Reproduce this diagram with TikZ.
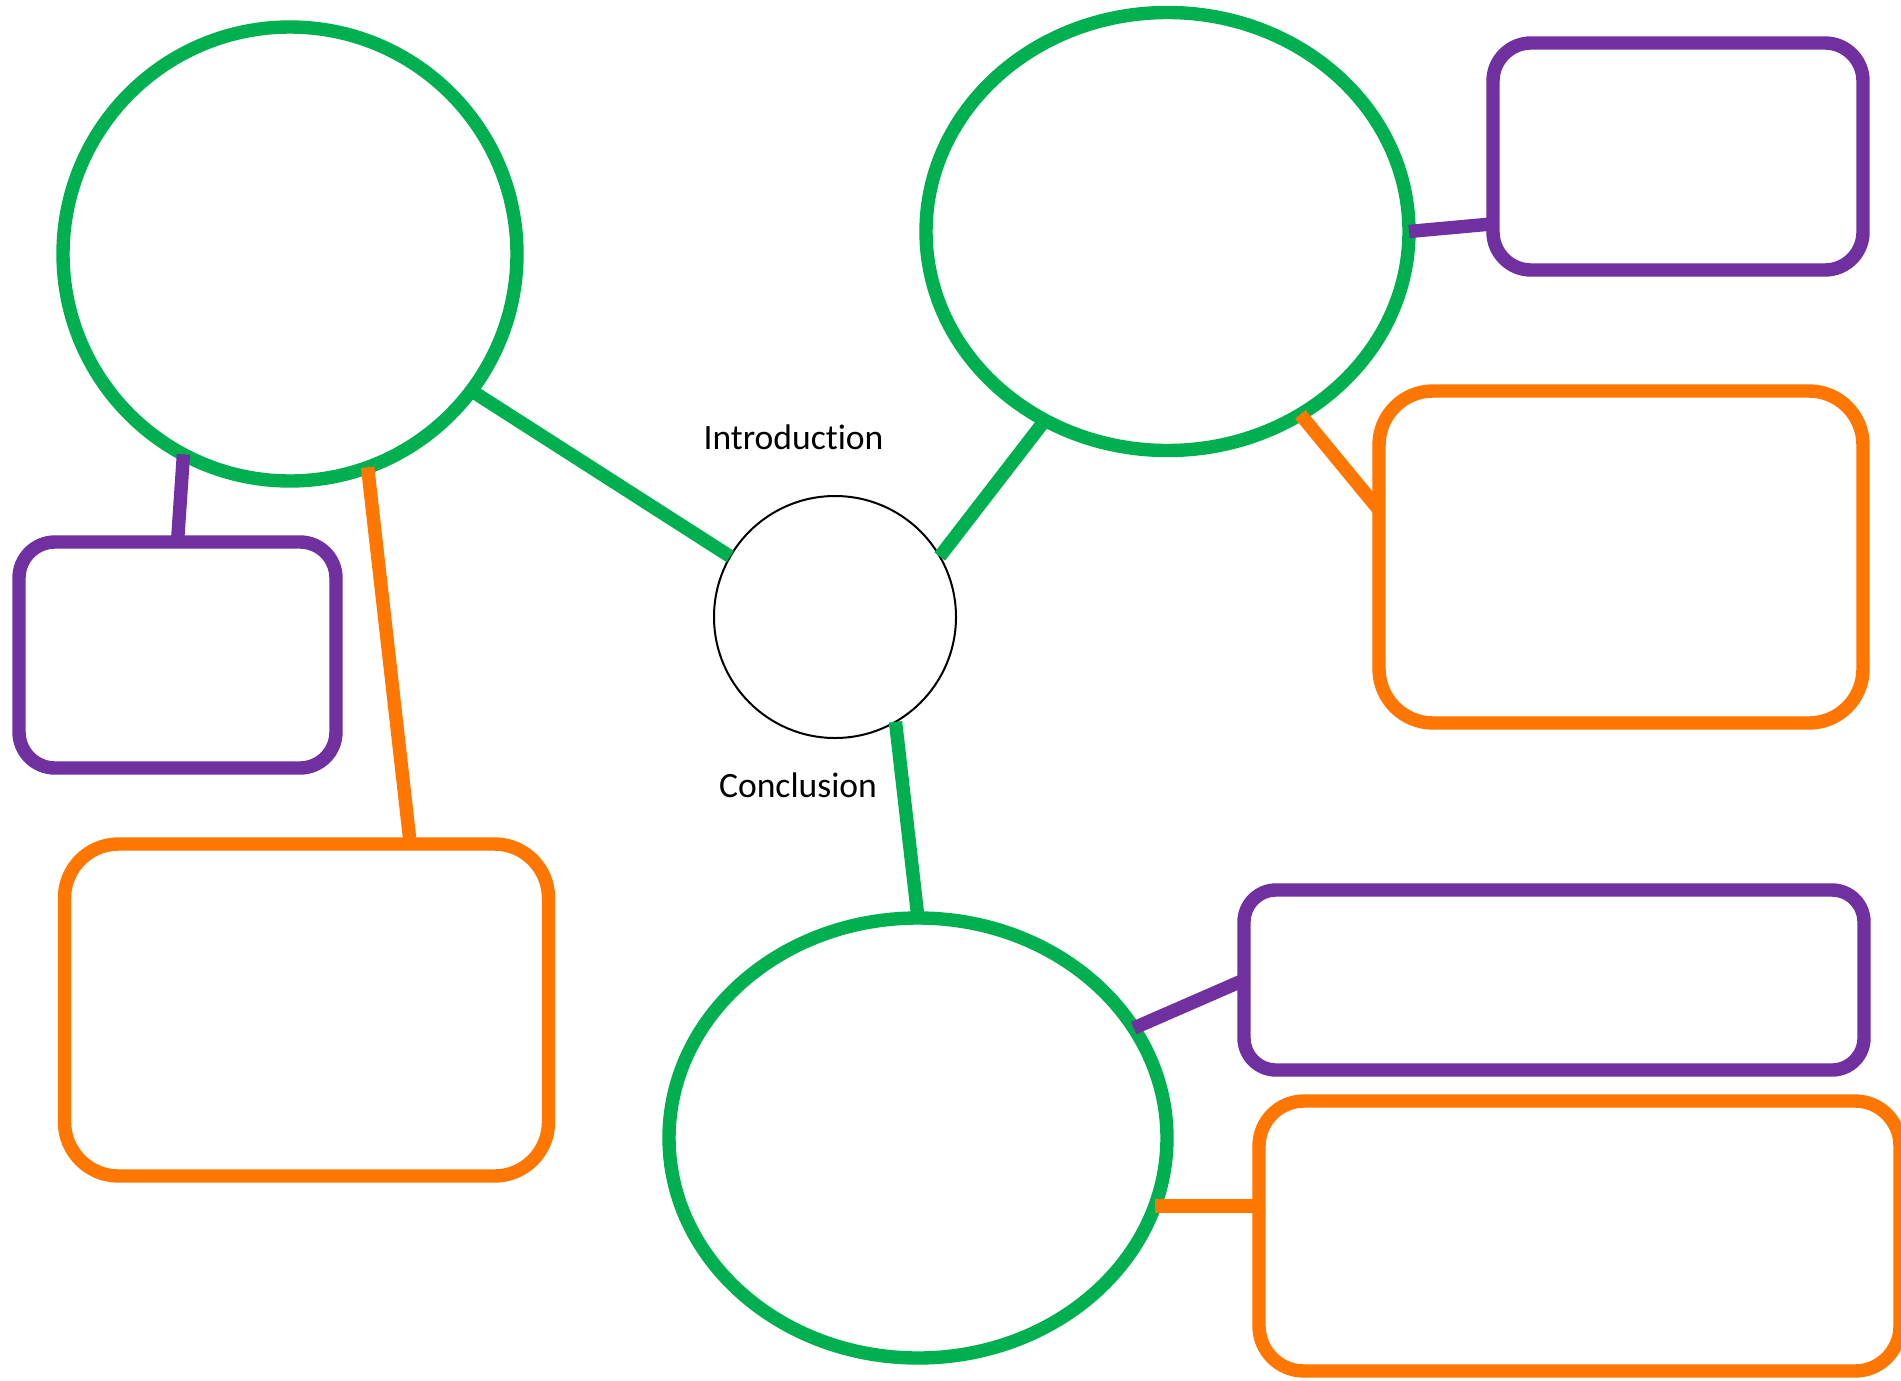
\documentclass[tikz,border=0pt]{standalone}
\usepackage{fontspec}
\setmainfont{Carlito}[Ligatures=NoCommon]
\usetikzlibrary{shapes.geometric}

\definecolor{mapgreen}{HTML}{00B050}
\definecolor{mappurple}{HTML}{7030A0}
\definecolor{maporange}{HTML}{FF7600}

\tikzstyle{hub} = [circle, draw=black, line width=1pt, minimum size=121pt, inner sep=0pt, outer sep=0pt]
\tikzstyle{topic} = [ellipse, draw=mapgreen, line width=6.7pt, inner sep=0pt, outer sep=0pt]
\tikzstyle{pbox} = [rectangle, draw=mappurple, line width=6.7pt, rounded corners=18pt, inner sep=0pt, outer sep=0pt]
\tikzstyle{obox} = [rectangle, draw=maporange, line width=6.7pt, rounded corners=27pt, inner sep=0pt, outer sep=0pt]
\tikzstyle{heading} = [inner sep=0pt, anchor=base, font=\fontsize{17.8}{21}\selectfont]
\tikzstyle{gline} = [draw=mapgreen, line width=6.7pt]
\tikzstyle{pline} = [draw=mappurple, line width=6.7pt]
\tikzstyle{oline} = [draw=maporange, line width=6.7pt]

\begin{document}
\begin{tikzpicture}[x=0.5pt, y=-0.5pt]
    \useasboundingbox (0,0) rectangle (1901,1381);

    \node[hub] (hub) at (835,617) {};
    \node[heading] (intro) at (793.5,449) {Introduction};
    \node[heading] (concl) at (798,797) {Conclusion};

    \node[topic, minimum width=227pt, minimum height=227pt] (topicA) at (290,254) {};
    \node[topic, minimum width=241.5pt, minimum height=219pt] (topicB) at (1167.5,231.5) {};
    \node[topic, minimum width=249pt, minimum height=220pt] (topicC) at (918,1138) {};

    \node[pbox, minimum width=158.5pt, minimum height=113pt] (detailA) at (177.5,655) {};
    \node[obox, minimum width=242pt, minimum height=166pt] (exampleA) at (306.5,1010) {};
    \node[pbox, minimum width=185pt, minimum height=113.5pt, rounded corners=19pt] (detailB) at (1678,156.5) {};
    \node[obox, minimum width=242pt, minimum height=166pt] (exampleB) at (1621,557) {};
    \node[pbox, minimum width=310pt, minimum height=90pt, rounded corners=16pt] (detailC) at (1554,980) {};
    \node[obox, minimum width=320.5pt, minimum height=135pt, rounded corners=22.5pt] (exampleC) at (1579.5,1236) {};

    % lines
    \draw [gline] (topicA.-37) -- (hub.150);
    \draw [gline] (hub.30) -- (topicB.237);
    \draw [gline] (hub.300) -- (topicC.north);
    \draw [pline] (topicA.242) -- (detailA.north);
    \draw [oline] (topicA.290) -- (exampleA.58);
    \draw [pline] (topicB.east) -- (detailB.200);
    \draw [oline] (topicB.306) -- (exampleB.169);
    \draw [pline] (topicC.27) -- (detailC.west);
    \draw [oline] (topicC.-16) -- (topicC.-16 -| exampleC.west);
\end{tikzpicture}
\end{document}
